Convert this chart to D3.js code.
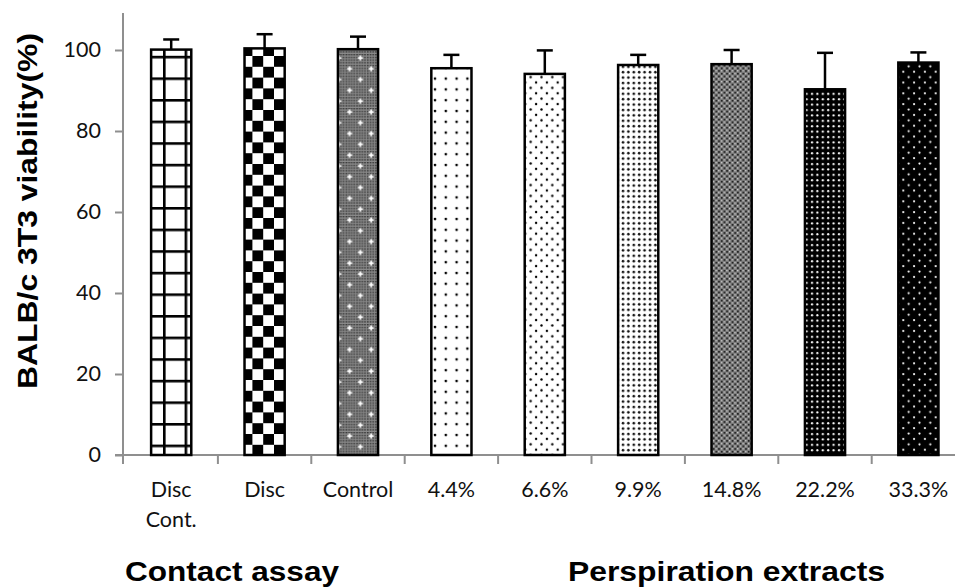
<!DOCTYPE html>
<html>
<head>
<meta charset="utf-8">
<script src="https://cdn.jsdelivr.net/npm/d3@7"></script>
<style>
  body { margin: 0; background: #fff; }
  svg { display: block; }
</style>
</head>
<body>
<div id="chart"></div>
<script>
// data
var categories = ['Disc Cont.', 'Disc', 'Control', '4.4%', '6.6%', '9.9%', '14.8%', '22.2%', '33.3%'];
var viability = [100.1, 100.4, 100.2, 95.5, 94.1, 96.3, 96.5, 90.3, 96.9];
var errors = [2.5, 3.5, 3.1, 3.3, 5.8, 2.5, 3.5, 9.0, 2.5];
var fills = ['grid', 'checker', 'control', 'sparse', 'diamond', 'dots', 'gray', 'blackdots', 'blackdiamond'];
var yTicks = [0, 20, 40, 60, 80, 100];
var groupLabels = ['Contact assay', 'Perspiration extracts'];

var width = 955, height = 588;
var axisX = 123, bottom = 455;
var left = 124.5, step = 93.4;

var svg = d3.select('#chart').append('svg')
  .attr('width', width)
  .attr('height', height);

var defs = svg.append('defs');

// ---- fill patterns (black & white Excel style) ----
function pat(id, w, h, bg) {
  var p = defs.append('pattern')
    .attr('id', id)
    .attr('patternUnits', 'userSpaceOnUse')
    .attr('width', w).attr('height', h);
  if (bg) p.append('rect').attr('width', w).attr('height', h).attr('fill', bg);
  return p;
}
var g = 21.6, h = g / 2, q = g / 4;

var p1 = pat('grid', g, g, '#fff').attr('patternTransform', 'translate(11.8,12.6)');
p1.append('rect').attr('x', 0).attr('y', 0).attr('width', 2.6).attr('height', g).attr('fill', '#000');
p1.append('rect').attr('x', 0).attr('y', 0).attr('width', g).attr('height', 2.6).attr('fill', '#000');

var p2 = pat('checker', g, g, '#fff').attr('patternTransform', 'translate(4,2)');
p2.append('rect').attr('x', 0).attr('y', 0).attr('width', h).attr('height', h).attr('fill', '#000');
p2.append('rect').attr('x', h).attr('y', h).attr('width', h).attr('height', h).attr('fill', '#000');

var pf = pat('fine', 2.7, 2.7, '#8a8a8a');
pf.append('rect').attr('width', 1.35).attr('height', 1.35).attr('fill', '#222');
var p3 = pat('control', g, g);
p3.append('rect').attr('width', g).attr('height', g).attr('fill', 'url(#fine)');
[[4, 4], [4 + h, 4 + h]].forEach(function(c) {
  p3.append('rect').attr('x', c[0] - 2.5).attr('y', c[1] - 0.8).attr('width', 5).attr('height', 1.6).attr('fill', '#fff');
  p3.append('rect').attr('x', c[0] - 0.8).attr('y', c[1] - 2.5).attr('width', 1.6).attr('height', 5).attr('fill', '#fff');
});

var p4 = pat('sparse', h, h, '#fff');
p4.append('circle').attr('cx', 3).attr('cy', 3).attr('r', 1.3).attr('fill', '#000');

var p5 = pat('diamond', h, h, '#fff');
p5.append('circle').attr('cx', 1.5).attr('cy', 1.5).attr('r', 1.2).attr('fill', '#000');
p5.append('circle').attr('cx', 1.5 + q).attr('cy', 1.5 + q).attr('r', 1.2).attr('fill', '#000');

var p6 = pat('dots', q, q, '#fff');
p6.append('circle').attr('cx', 2).attr('cy', 2).attr('r', 1.3).attr('fill', '#111');

var p7 = pat('gray', q, q, '#7a7a7a');
p7.append('rect').attr('x', 0).attr('y', 0).attr('width', 1.6).attr('height', 1.6).attr('fill', '#1a1a1a');
p7.append('rect').attr('x', q / 2).attr('y', q / 2).attr('width', 1.6).attr('height', 1.6).attr('fill', '#1a1a1a');
p7.append('rect').attr('x', 0).attr('y', q / 2).attr('width', 1.3).attr('height', 1.3).attr('fill', '#d0d0d0');
p7.append('rect').attr('x', q / 2).attr('y', 0).attr('width', 1.3).attr('height', 1.3).attr('fill', '#d0d0d0');

var p8 = pat('blackdots', q, q, '#000');
p8.append('circle').attr('cx', 2).attr('cy', 2).attr('r', 1.1).attr('fill', '#fff');

var p9 = pat('blackdiamond', h, h, '#000');
p9.append('circle').attr('cx', 1.5).attr('cy', 1.5).attr('r', 1.1).attr('fill', '#fff');
p9.append('circle').attr('cx', 1.5 + q).attr('cy', 1.5 + q).attr('r', 1.1).attr('fill', '#fff');

// ---- scales ----
var x = d3.scaleBand()
  .domain(categories)
  .range([left, left + step * categories.length])
  .paddingInner(0.57)
  .paddingOuter(0.285);

var y = d3.scaleLinear()
  .domain([0, 110])
  .range([bottom, bottom - 110 * 4.05]);

var axisColor = '#8f8f8f';
var labelFont = 'Lato, "Open Sans", sans-serif';
var titleFont = '"Liberation Sans", Arial, sans-serif';

// y axis
var yAxis = svg.append('g')
  .attr('transform', 'translate(' + axisX + ',0)')
  .call(d3.axisLeft(y).tickValues(yTicks).tickSize(8).tickPadding(14).tickSizeOuter(0));
yAxis.select('.domain').attr('stroke', axisColor).attr('stroke-width', 2)
  .attr('d', 'M0,' + y(0) + 'V' + (y(0) - 442));
yAxis.selectAll('.tick line').attr('stroke', axisColor).attr('stroke-width', 2);
yAxis.selectAll('.tick text')
  .style('font-family', labelFont)
  .style('font-size', '21.5px')
  .attr('fill', '#111');

// x axis (ticks between categories)
var xAxis = svg.append('g').attr('transform', 'translate(0,' + bottom + ')');
xAxis.append('line')
  .attr('x1', axisX - 8).attr('x2', width)
  .attr('stroke', axisColor).attr('stroke-width', 2);
xAxis.selectAll('.sep')
  .data(categories.slice(1))
  .enter().append('line')
  .attr('x1', function(d) { return x(d) - x.step() * 0.285; })
  .attr('x2', function(d) { return x(d) - x.step() * 0.285; })
  .attr('y1', 0).attr('y2', 9)
  .attr('stroke', axisColor).attr('stroke-width', 2);
xAxis.append('line')
  .attr('x1', axisX).attr('x2', axisX).attr('y1', 0).attr('y2', 9)
  .attr('stroke', axisColor).attr('stroke-width', 2);

var xl = xAxis.selectAll('.xlab')
  .data(categories)
  .enter().append('text')
  .attr('text-anchor', 'middle')
  .attr('transform', function(d) { return 'translate(' + (x(d) + x.bandwidth() / 2) + ',42)'; })
  .style('font-family', labelFont)
  .style('font-size', '21.5px')
  .attr('fill', '#111');
xl.each(function(d) {
  var words = d === 'Disc Cont.' ? ['Disc', 'Cont.'] : [d];
  var t = d3.select(this);
  words.forEach(function(w, i) {
    t.append('tspan').attr('x', 0).attr('y', i * 30).text(w);
  });
});

// ---- bars ----
var data = categories.map(function(c, i) {
  return { cat: c, value: viability[i], err: errors[i], fill: fills[i] };
});

svg.selectAll('.bar')
  .data(data)
  .enter().append('rect')
  .attr('class', 'bar')
  .attr('x', function(d) { return x(d.cat); })
  .attr('y', function(d) { return y(d.value); })
  .attr('width', x.bandwidth())
  .attr('height', function(d) { return y(0) - y(d.value); })
  .attr('fill', function(d) { return 'url(#' + d.fill + ')'; })
  .attr('stroke', '#000')
  .attr('stroke-width', 2.5);

// error bars (upper only)
var eb = svg.selectAll('.err')
  .data(data)
  .enter().append('g')
  .attr('transform', function(d) { return 'translate(' + (x(d.cat) + x.bandwidth() / 2) + ',0)'; });
eb.append('line')
  .attr('y1', function(d) { return y(d.value); })
  .attr('y2', function(d) { return y(d.value + d.err); })
  .attr('stroke', '#000').attr('stroke-width', 2.5);
eb.append('line')
  .attr('x1', -8).attr('x2', 8)
  .attr('y1', function(d) { return y(d.value + d.err); })
  .attr('y2', function(d) { return y(d.value + d.err); })
  .attr('stroke', '#000').attr('stroke-width', 2.5);

// ---- titles ----
svg.append('text')
  .attr('transform', 'translate(37,211) rotate(-90)')
  .attr('text-anchor', 'middle')
  .style('font-family', titleFont)
  .style('font-weight', 'bold')
  .style('font-size', '28px')
  .attr('textLength', 356)
  .attr('lengthAdjust', 'spacingAndGlyphs')
  .text('BALB/c 3T3 viability(%)');

svg.selectAll('.group')
  .data(groupLabels)
  .enter().append('text')
  .attr('x', function(d, i) { return i === 0 ? 125 : 568; })
  .attr('y', 581)
  .style('font-family', titleFont)
  .style('font-weight', 'bold')
  .style('font-size', '28px')
  .attr('textLength', function(d, i) { return i === 0 ? 214 : 317; })
  .attr('lengthAdjust', 'spacingAndGlyphs')
  .text(function(d) { return d; });
</script>
</body>
</html>
